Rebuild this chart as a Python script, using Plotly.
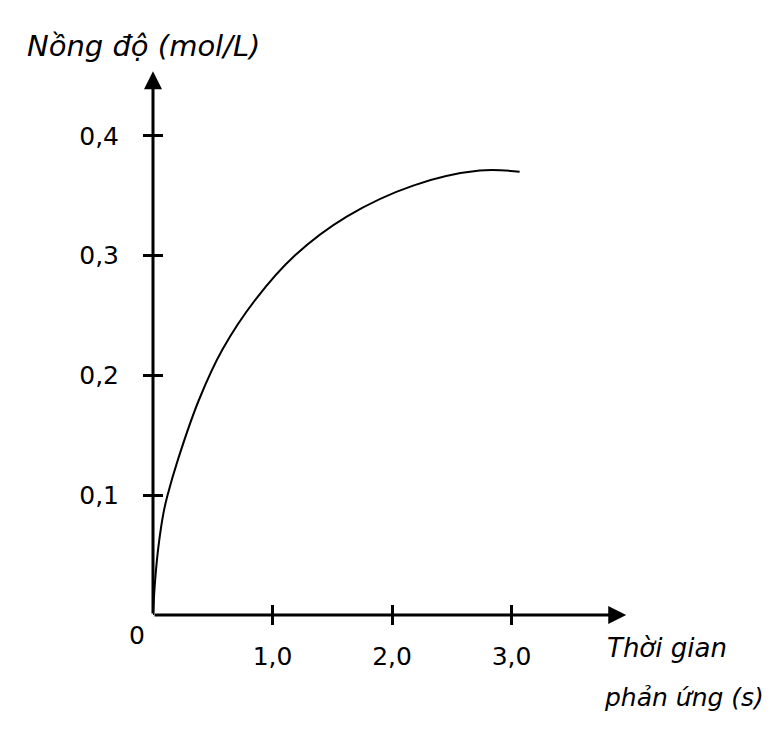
import plotly.graph_objects as go

# Data
time_s = [0.0, 0.0184, 0.0459, 0.0876, 0.121, 0.2087, 0.385, 0.580, 0.856, 1.189, 1.621, 2.177, 2.734, 3.068]
conc = [0.0, 0.0296, 0.0574, 0.0852, 0.0997, 0.1297, 0.1797, 0.2214, 0.2631, 0.3003, 0.3326, 0.3585, 0.3710, 0.3701]

x_tickvals = [1.0, 2.0, 3.0]
x_ticktext = ["1,0", "2,0", "3,0"]
y_tickvals = [0.1, 0.2, 0.3, 0.4]
y_ticktext = ["0,1", "0,2", "0,3", "0,4"]

y_title = "Nồng độ (mol/L)"
x_title_1 = "Thời gian"
x_title_2 = "phản ứng (s)"
origin_label = "0"

x_end = 3.96
y_end = 0.454

FONT = "DejaVu Sans"
fig = go.Figure()
fig.add_trace(go.Scatter(x=time_s, y=conc, mode="lines",
                         line=dict(color="black", width=2, shape="spline", smoothing=1.0),
                         hoverinfo="skip", showlegend=False))
# invisible trace to host the overlay axes (inner half of crossing ticks)
fig.add_trace(go.Scatter(x=time_s, y=conc, mode="lines", xaxis="x2", yaxis="y2",
                         line=dict(color="rgba(0,0,0,0)", width=0),
                         hoverinfo="skip", showlegend=False))

# axes drawn as arrows
fig.add_annotation(x=x_end, y=0, ax=0, ay=0, xref="x", yref="y", axref="x", ayref="y",
                   showarrow=True, arrowhead=2, arrowsize=1.2, arrowwidth=3, arrowcolor="black", text="")
fig.add_annotation(x=0, y=y_end, ax=0, ay=0, xref="x", yref="y", axref="x", ayref="y",
                   showarrow=True, arrowhead=2, arrowsize=1.2, arrowwidth=3, arrowcolor="black", text="")

fig.add_annotation(x=0, y=0, xref="x", yref="y", text=origin_label, showarrow=False,
                   xanchor="center", yanchor="middle", xshift=-16, yshift=-20,
                   font=dict(family=FONT, size=25, color="black"))
fig.add_annotation(x=0, y=1, xref="paper", yref="paper", text=y_title, showarrow=False,
                   xanchor="left", yanchor="middle", xshift=-128, yshift=18,
                   font=dict(family=FONT, size=29, color="black", style="italic"))
fig.add_annotation(x=x_end, y=0, xref="x", yref="y", text=x_title_1, showarrow=False,
                   xanchor="left", yanchor="middle", xshift=-21, yshift=-33,
                   font=dict(family=FONT, size=26, color="black", style="italic"))
fig.add_annotation(x=x_end, y=0, xref="x", yref="y", text=x_title_2, showarrow=False,
                   xanchor="left", yanchor="middle", xshift=-24, yshift=-82,
                   font=dict(family=FONT, size=25, color="black", style="italic"))

common_x = dict(range=[0, 4.0], tickvals=x_tickvals, showgrid=False, zeroline=False,
                showline=False, tickcolor="black", tickwidth=2.5, fixedrange=True)
common_y = dict(range=[0, 0.46], tickvals=y_tickvals, showgrid=False, zeroline=False,
                showline=False, tickcolor="black", tickwidth=2.5, fixedrange=True)

fig.update_layout(
    xaxis=dict(**common_x, ticktext=x_ticktext, ticks="outside", ticklen=9,
               ticklabelstandoff=10, tickfont=dict(family=FONT, size=25, color="black")),
    yaxis=dict(**common_y, ticktext=y_ticktext, ticks="outside", ticklen=9,
               ticklabelstandoff=19, tickfont=dict(family=FONT, size=25, color="black")),
    xaxis2=dict(**common_x, overlaying="x", anchor="y2", ticks="inside", ticklen=10,
                showticklabels=False),
    yaxis2=dict(**common_y, overlaying="y", anchor="x2", ticks="inside", ticklen=10,
                showticklabels=False),
    width=782, height=745, margin=dict(l=152.5, r=150.5, t=64, b=129.5),
    plot_bgcolor="white", paper_bgcolor="white", showlegend=False)
fig.write_html("out.html")
